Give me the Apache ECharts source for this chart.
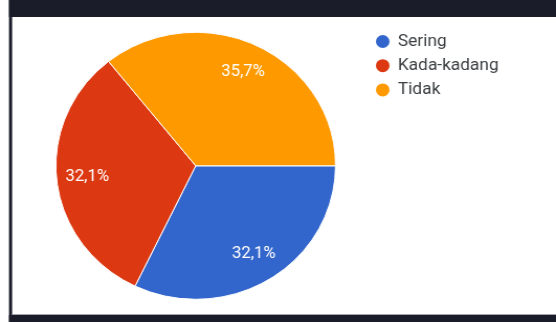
<!DOCTYPE html>
<html>
<head>
<meta charset="utf-8">
<script src="https://cdn.jsdelivr.net/npm/echarts@6/dist/echarts.min.js"></script>
<style>
  html, body { margin: 0; padding: 0; background: #ffffff; overflow: hidden; }
  /* the chart is laid out slightly narrower and widened horizontally */
  #chart { width: 531px; height: 322px; transform: scaleX(1.0471); transform-origin: 0 0; }
</style>
</head>
<body>
<div id="chart"></div>
<script>
// Survey answers
const categories = ['Sering', 'Kada-kadang', 'Tidak'];
const counts = [9, 9, 10];
const colors = ['#3366cc', '#dc3912', '#ff9900'];

const sliceData = categories.map((name, i) => ({ name, value: counts[i] }));

const chart = echarts.init(document.getElementById('chart'), null, { renderer: 'canvas' });

const fontFamily = 'Roboto, "Noto Sans", sans-serif';
const center = [186.9, 165.8];
const outerR = 133.5;

chart.setOption({
  animation: false,
  backgroundColor: '#ffffff',
  color: colors,
  graphic: [
    // dark window frame
    { type: 'rect', shape: { x: 8.6, y: 0, width: 530, height: 17 }, style: { fill: '#1a1d29' }, silent: true },
    { type: 'rect', shape: { x: 8.6, y: 0, width: 3, height: 322 }, style: { fill: '#1a1d29' }, silent: true },
    { type: 'rect', shape: { x: 8.6, y: 315, width: 530, height: 7 }, style: { fill: '#1a1d29' }, silent: true },
    { type: 'rect', shape: { x: 11.6, y: 314, width: 530, height: 1 }, style: { fill: '#a4a6ad' }, silent: true }
  ],
  legend: {
    orient: 'vertical',
    left: 357,
    top: 33,
    padding: 0,
    icon: 'circle',
    itemWidth: 15,
    itemHeight: 15,
    itemGap: 7.2,
    data: categories,
    textStyle: { color: '#3c4043', fontSize: 16.5, fontFamily, padding: [0, 0, 0, 2] }
  },
  series: [
    {
      type: 'pie',
      center,
      radius: [0, outerR],
      startAngle: 0,
      clockwise: true,
      silent: true,
      data: sliceData,
      itemStyle: { borderColor: '#ffffff', borderWidth: 1 },
      label: { show: false },
      labelLine: { show: false },
      emphasis: { disabled: true }
    },
    {
      // transparent ring used only to place the percentage labels
      type: 'pie',
      center,
      radius: [69, outerR],
      startAngle: 0,
      clockwise: true,
      silent: true,
      data: sliceData,
      itemStyle: { color: 'rgba(0,0,0,0)', borderWidth: 0 },
      label: {
        show: true,
        position: 'inside',
        color: '#ffffff',
        fontSize: 16,
        fontFamily,
        formatter: p => p.percent.toFixed(1).replace('.', ',') + '%'
      },
      labelLine: { show: false },
      emphasis: { disabled: true }
    }
  ]
});
</script>
</body>
</html>
